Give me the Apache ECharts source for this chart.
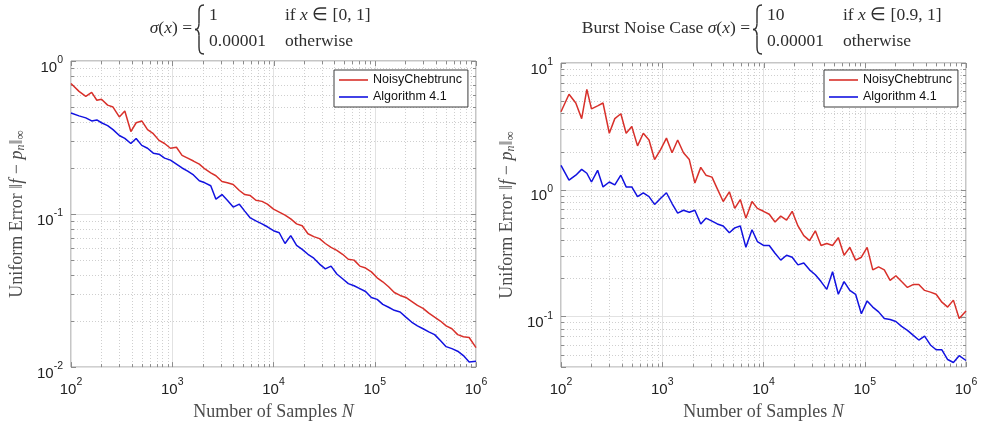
<!DOCTYPE html>
<html><head><meta charset="utf-8">
<script src="https://cdn.jsdelivr.net/npm/echarts@6/dist/echarts.min.js"></script>
<style>html,body{margin:0;padding:0;background:#fff}#c{width:984px;height:427px}</style>
</head><body><div id="c"></div>
<script>
// ---------------- data ----------------
const samplesN = [100,120,140,160,180,200,230,260,300,340,390,440,500,570,650,740,840,960,
  1100,1250,1420,1620,1850,2100,2400,2700,3100,3500,4000,4600,5200,5900,6700,7700,8700,
  10000,11400,13000,14800,16900,19200,21900,25000,28500,32500,37000,42200,48100,54800,62500,71200,81200,92600,
  105600,120000,137000,156000,178000,203000,231000,264000,300000,342000,390000,445000,507000,578000,659000,751000,856000,1000000];

const leftNoisy = [0.712,0.633,0.588,0.624,0.554,0.562,0.515,0.500,0.431,0.471,0.346,0.395,0.406,0.356,0.335,0.303,0.289,0.269,
  0.273,0.242,0.232,0.222,0.212,0.197,0.186,0.178,0.163,0.160,0.156,0.1425,0.134,0.132,0.123,0.121,0.116,
  0.1077,0.103,0.0985,0.0929,0.0863,0.0838,0.0744,0.0712,0.0691,0.0642,0.0605,0.0579,0.0546,0.0507,0.0500,0.0457,0.0444,0.0419,
  0.0383,0.0361,0.0335,0.0307,0.0294,0.0285,0.0269,0.0253,0.0242,0.0225,0.0212,0.0200,0.0186,0.0178,0.0163,0.0158,0.0156,0.0134];

const leftAlg = [0.457,0.438,0.425,0.406,0.412,0.395,0.378,0.356,0.326,0.312,0.289,0.312,0.281,0.269,0.250,0.246,0.232,0.225,
  0.212,0.200,0.191,0.180,0.165,0.160,0.153,0.125,0.134,0.123,0.111,0.116,0.1045,0.0943,0.0902,0.0863,0.0826,
  0.0778,0.0755,0.0642,0.0723,0.0624,0.0588,0.0546,0.0515,0.0471,0.0438,0.0457,0.0406,0.0378,0.0351,0.0340,0.0326,0.0312,0.0285,
  0.0277,0.0257,0.0246,0.0235,0.0229,0.0212,0.0197,0.0186,0.0178,0.0170,0.0163,0.0149,0.0136,0.0132,0.0127,0.0119,0.0108,0.0109];

const rightNoisy = [4.125,5.674,4.837,3.643,6.198,4.349,4.586,4.837,2.794,3.643,3.981,2.794,3.162,2.220,2.794,2.468,1.732,2.067,
  2.557,1.960,2.468,1.960,1.732,1.132,1.503,1.304,1.259,1.018,0.809,0.965,0.714,0.838,0.598,0.809,0.714,
  0.677,0.642,0.557,0.620,0.577,0.677,0.519,0.435,0.398,0.475,0.364,0.377,0.364,0.420,0.305,0.352,0.279,0.294,
  0.352,0.234,0.247,0.234,0.193,0.210,0.189,0.170,0.179,0.179,0.161,0.156,0.150,0.130,0.119,0.135,0.0965,0.111];

const rightAlg = [1.557,1.194,1.304,1.450,1.351,1.152,1.425,1.054,1.152,1.093,1.304,1.054,1.054,0.884,0.948,0.884,0.767,0.853,
  0.948,0.780,0.654,0.690,0.665,0.690,0.538,0.598,0.567,0.538,0.519,0.459,0.501,0.519,0.352,0.484,0.391,
  0.364,0.364,0.316,0.279,0.305,0.294,0.256,0.265,0.234,0.214,0.189,0.164,0.226,0.150,0.189,0.161,0.150,0.1054,
  0.133,0.119,0.109,0.0965,0.0948,0.0915,0.0838,0.0780,0.0714,0.0654,0.0702,0.0598,0.0548,0.0548,0.0459,0.0435,0.0492,0.0451];

const seriesNames = ['NoisyChebtrunc', 'Algorithm 4.1'];
const xMajorTicks = [100, 1000, 10000, 100000, 1000000];
const xMinorTicks = [200,300,400,500,600,700,800,900,2000,3000,4000,5000,6000,7000,8000,9000,
  20000,30000,40000,50000,60000,70000,80000,90000,200000,300000,400000,500000,600000,700000,800000,900000];
const leftYMajorTicks = [0.01, 0.1, 1];
const leftYMinorTicks = [0.02,0.03,0.04,0.05,0.06,0.07,0.08,0.09,0.2,0.3,0.4,0.5,0.6,0.7,0.8,0.9];
const rightYMajorTicks = [0.1, 1, 10];
const rightYMinorTicks = [0.05,0.06,0.07,0.08,0.09,0.2,0.3,0.4,0.5,0.6,0.7,0.8,0.9,2,3,4,5,6,7,8,9];
const xRange = [100, 1000000];
const leftYRange = [0.01, 1];
const rightYRange = [0.04, 10];

// ---------------- styling ----------------
const RED = '#d8302a', BLUE = '#1212e0';
const BOX = '#8c8c8c';
const SANS = 'Liberation Sans', SERIF = 'Liberation Serif';

function powLabel(v) {
  const e = Math.log10(v), r = Math.round(e);
  if (Math.abs(e - r) > 1e-6) return '';
  return '{b|10}{s|' + r + '}';
}
const labelRich = {
  b: {fontSize: 15, lineHeight: 20, verticalAlign: 'bottom', fontFamily: SANS, color: '#222'},
  s: {fontSize: 10.5, lineHeight: 7, verticalAlign: 'top', fontFamily: SANS, color: '#222'}
};
const nameStyle = {
  fontFamily: SERIF, fontSize: 18, color: '#4a4a4a', lineHeight: 20,
  rich: {
    i: {fontFamily: SERIF, fontSize: 18, fontStyle: 'italic', color: '#4a4a4a', lineHeight: 20},
    sub: {fontFamily: SERIF, fontSize: 12, fontStyle: 'italic', color: '#4a4a4a', lineHeight: 8, verticalAlign: 'bottom'},
    subu: {fontFamily: SERIF, fontSize: 13, color: '#4a4a4a', lineHeight: 8, verticalAlign: 'bottom'}
  }
};

function xAxisDef(gi) {
  return {
    gridIndex: gi, type: 'log', logBase: 10, min: xRange[0], max: xRange[1],
    axisLine: {show: false},
    axisTick: {show: true, inside: true, length: 5, lineStyle: {color: BOX}},
    splitLine: {show: true, lineStyle: {color: '#e2e2e2', width: 1}},
    axisLabel: {formatter: powLabel, rich: labelRich, margin: 10, showMinLabel: true, showMaxLabel: true},
    name: 'Number of Samples {i|N}', nameLocation: 'middle', nameGap: 30, nameTextStyle: nameStyle
  };
}
function yAxisDef(gi, range) {
  return {
    gridIndex: gi, type: 'log', logBase: 10, min: range[0], max: range[1],
    axisLine: {show: false},
    axisTick: {show: true, inside: true, length: 5, lineStyle: {color: BOX}},
    splitLine: {show: true, lineStyle: {color: '#e2e2e2', width: 1}},
    axisLabel: {formatter: powLabel, rich: labelRich, margin: 8, padding: [8, 0, 0, 0]},
    name: 'Uniform Error \u2016{i|f} \u2212 {i|p}{sub|n}\u2016{subu|\u221e}', nameLocation: 'middle', nameRotate: 90,
    nameGap: 44, nameTextStyle: nameStyle
  };
}

function decor(gi, yRange, yMaj, yMin) {
  const data = [];
  xMinorTicks.forEach(v => data.push([v, yRange[0], 0]));
  yMin.forEach(v => data.push([xRange[0], v, 1]));
  xMajorTicks.forEach(v => data.push([v, yRange[0], 2]));
  yMaj.forEach(v => data.push([xRange[0], v, 3]));
  return {
    type: 'custom', xAxisIndex: gi, yAxisIndex: gi, silent: true, z: 1, animation: false,
    encode: {x: 0, y: 1}, data,
    renderItem(params, api) {
      const cs = params.coordSys;
      const k = api.value(2);
      const pt = api.coord([api.value(0), api.value(1)]);
      const top = cs.y, bot = cs.y + cs.height, left = cs.x, right = cs.x + cs.width;
      const tick = {stroke: BOX, lineWidth: 1};
      const grid = {stroke: '#cfcfcf', lineWidth: 1, lineDash: [1, 2]};
      const ch = [];
      if (k === 0 || k === 2) {
        const x = Math.round(pt[0]) + 0.5;
        if (k === 0) {
          ch.push({type: 'line', shape: {x1: x, y1: top, x2: x, y2: bot}, style: grid});
          ch.push({type: 'line', shape: {x1: x, y1: bot, x2: x, y2: bot - 3}, style: tick});
          ch.push({type: 'line', shape: {x1: x, y1: top, x2: x, y2: top + 3}, style: tick});
        } else {
          ch.push({type: 'line', shape: {x1: x, y1: top, x2: x, y2: top + 5}, style: tick});
        }
      } else {
        const y = Math.round(pt[1]) + 0.5;
        if (k === 1) {
          ch.push({type: 'line', shape: {x1: left, y1: y, x2: right, y2: y}, style: grid});
          ch.push({type: 'line', shape: {x1: left, y1: y, x2: left + 3, y2: y}, style: tick});
          ch.push({type: 'line', shape: {x1: right, y1: y, x2: right - 3, y2: y}, style: tick});
        } else {
          ch.push({type: 'line', shape: {x1: right, y1: y, x2: right - 5, y2: y}, style: tick});
        }
      }
      return {type: 'group', children: ch};
    }
  };
}

function lineSeries(name, gi, ys, color) {
  return {
    name, type: 'line', xAxisIndex: gi, yAxisIndex: gi,
    data: samplesN.map((n, i) => [n, ys[i]]),
    symbol: 'none', showSymbol: false, smooth: false,
    lineStyle: {color, width: 1.5}, itemStyle: {color}, z: 3, animation: false
  };
}

function legendDef(left) {
  return {
    left, top: 70, orient: 'vertical', selectedMode: false,
    data: seriesNames.map(n => ({name: n, icon: 'rect'})),
    itemWidth: 29, itemHeight: 1.6, itemGap: 3, padding: [3, 6, 3, 5],
    borderColor: '#3c3c3c', borderWidth: 1, backgroundColor: '#fff', borderRadius: 0,
    textStyle: {fontFamily: SANS, fontSize: 12.5, color: '#111', lineHeight: 14}, z: 10
  };
}

// title pieces (LaTeX-like)
const titleFont = {fontFamily: SERIF, fontSize: 17.5, fill: '#2e2e2e'};
const titleRich = {i: {fontFamily: SERIF, fontSize: 17.5, fontStyle: 'italic', fill: '#2e2e2e'}};
function txt(x, y, text, align) {
  return {type: 'text', x, y, silent: true, z: 10,
    style: Object.assign({text, align: align || 'left', verticalAlign: 'middle', rich: titleRich}, titleFont)};
}
function bez(x1, y1, cx1, cy1, cx2, cy2, x2, y2) {
  return {type: 'bezierCurve', silent: true, z: 10,
    shape: {x1, y1, cpx1: cx1, cpy1: cy1, cpx2: cx2, cpy2: cy2, x2, y2},
    style: {stroke: '#2e2e2e', lineWidth: 1.4, fill: null}};
}
function seg(x1, y1, x2, y2) {
  return {type: 'line', silent: true, z: 10, shape: {x1, y1, x2, y2}, style: {stroke: '#2e2e2e', lineWidth: 1.4}};
}
function brace(x0, y0, y1) {
  const ym = (y0 + y1) / 2;
  return [
    bez(x0 + 9, y0, x0 + 5, y0, x0 + 4, y0 + 2, x0 + 4, y0 + 7),
    seg(x0 + 4, y0 + 7, x0 + 4, ym - 6),
    bez(x0 + 4, ym - 6, x0 + 4, ym - 2, x0 + 2, ym, x0, ym),
    bez(x0, ym, x0 + 2, ym, x0 + 4, ym + 2, x0 + 4, ym + 6),
    seg(x0 + 4, ym + 6, x0 + 4, y1 - 7),
    bez(x0 + 4, y1 - 7, x0 + 4, y1 - 2, x0 + 5, y1, x0 + 9, y1)
  ];
}
function titleBlock(lhs, eqEnd, first, ifText) {
  const c1 = eqEnd + 17, c2 = c1 + 76;
  return [
    txt(eqEnd, 28, lhs, 'right'),
    ...brace(eqEnd + 3, 5, 54),
    txt(c1, 15, first), txt(c1, 41, '0.00001'),
    txt(c2, 15, ifText), txt(c2, 41, 'otherwise')
  ];
}

const chart = echarts.init(document.getElementById('c'), null, {renderer: 'canvas'});
chart.setOption({
  animation: false,
  textStyle: {fontFamily: SANS},
  grid: [
    {left: 71, top: 61, width: 405, height: 312, show: true, borderColor: BOX, borderWidth: 1, backgroundColor: 'transparent'},
    {left: 561, top: 63, width: 405, height: 310, show: true, borderColor: BOX, borderWidth: 1, backgroundColor: 'transparent'}
  ],
  xAxis: [xAxisDef(0), xAxisDef(1)],
  yAxis: [yAxisDef(0, leftYRange), yAxisDef(1, rightYRange)],
  legend: [legendDef(334), legendDef(824)],
  series: [
    decor(0, leftYRange, leftYMajorTicks, leftYMinorTicks),
    decor(1, rightYRange, rightYMajorTicks, rightYMinorTicks),
    lineSeries(seriesNames[0], 0, leftNoisy, RED),
    lineSeries(seriesNames[1], 0, leftAlg, BLUE),
    lineSeries(seriesNames[0], 1, rightNoisy, RED),
    lineSeries(seriesNames[1], 1, rightAlg, BLUE)
  ],
  graphic: [
    ...titleBlock('{i|\u03c3}({i|x}) =', 192, '1', 'if {i|x} \u2208 [0, 1]'),
    ...titleBlock('Burst Noise Case {i|\u03c3}({i|x}) =', 750, '10', 'if {i|x} \u2208 [0.9, 1]')
  ]
});
</script>
</body></html>
